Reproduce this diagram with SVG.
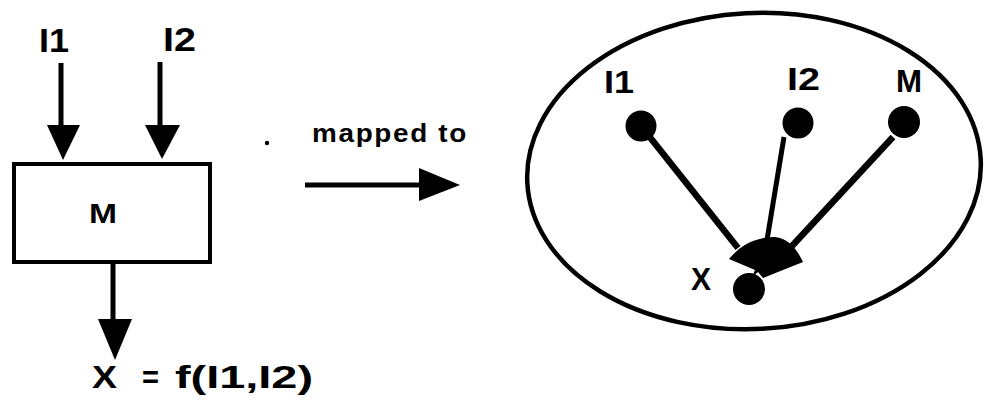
<svg xmlns="http://www.w3.org/2000/svg" width="992" height="405" viewBox="0 0 992 405">
<style>
.t{font-family:"Liberation Sans",Arial,sans-serif;font-weight:bold;fill:#000}
.ln{stroke:#000;fill:none;stroke-linecap:butt}
.hd{fill:#000;stroke:none}
.dot{fill:#000}
</style>
<rect width="992" height="405" fill="#fff"/>
<g id="label-I1"><text class="t" x="39" y="52" font-size="33" textLength="30" lengthAdjust="spacingAndGlyphs">I1</text></g>
<g id="label-I2"><text class="t" x="163" y="51" font-size="33" textLength="33" lengthAdjust="spacingAndGlyphs">I2</text></g>
<g id="node-M-box">
<rect x="14" y="164" width="196" height="98" fill="#fff" stroke="#000" stroke-width="4"/>
<text class="t" x="89" y="223" font-size="28" textLength="28" lengthAdjust="spacingAndGlyphs">M</text>
</g>
<g id="label-X-eq">
<text class="t" x="92" y="388" font-size="31" textLength="25" lengthAdjust="spacingAndGlyphs">X</text>
<text class="t" x="142" y="388" font-size="31" textLength="17" lengthAdjust="spacingAndGlyphs">=</text>
<text class="t" x="175" y="388" font-size="31" textLength="138" lengthAdjust="spacingAndGlyphs">f(I1,I2)</text>
</g>
<g id="label-mapped">
<circle cx="267" cy="143" r="2.2" class="dot"/>
<text class="t" x="312" y="142" font-size="25" letter-spacing="1.5" textLength="156" lengthAdjust="spacingAndGlyphs">mapped to</text>
</g>
<g id="ellipse-graph">
<ellipse cx="754" cy="171" rx="227" ry="158" transform="rotate(-3 754 171)" fill="none" stroke="#000" stroke-width="4.5"/>
</g>
<g id="node-I1"><circle cx="641" cy="126" r="15.5" class="dot"/><text class="t" x="604" y="93" font-size="32" textLength="30" lengthAdjust="spacingAndGlyphs">I1</text></g>
<g id="node-I2"><circle cx="798" cy="123" r="15.5" class="dot"/><text class="t" x="787" y="90" font-size="32" textLength="33" lengthAdjust="spacingAndGlyphs">I2</text></g>
<g id="node-M"><circle cx="904" cy="122" r="16" class="dot"/><text class="t" x="896" y="92" font-size="32" textLength="26" lengthAdjust="spacingAndGlyphs">M</text></g>
<g id="node-X"><circle cx="749" cy="289" r="16" class="dot"/><text class="t" x="691" y="290" font-size="32" textLength="20" lengthAdjust="spacingAndGlyphs">X</text></g>
<g id="connectors">
<line class="ln" x1="61" y1="63" x2="61" y2="128" stroke-width="5"/>
<polygon class="hd" points="47,125 80,125 63,160"/>
<line class="ln" x1="160" y1="62" x2="160" y2="128" stroke-width="5"/>
<polygon class="hd" points="145,125 180,125 162,159"/>
<line class="ln" x1="113" y1="262" x2="113" y2="322" stroke-width="5"/>
<polygon class="hd" points="98,319 132,319 115,360"/>
<line class="ln" x1="305" y1="185" x2="422" y2="185" stroke-width="5"/>
<polygon class="hd" points="419,168 419,201 460,185"/>
<line class="ln" x1="641" y1="126" x2="738" y2="248" stroke-width="6.5"/>
<line class="ln" x1="784" y1="137" x2="767" y2="240" stroke-width="5"/>
<line class="ln" x1="893" y1="137" x2="792" y2="246" stroke-width="6.5"/>
<path class="hd" d="M729,259 C742,243 758,237 775,237 C788,238 797,249 803,262 L763,278 L758,272 L752,277 L755,270 Z"/>
</g>
</svg>
